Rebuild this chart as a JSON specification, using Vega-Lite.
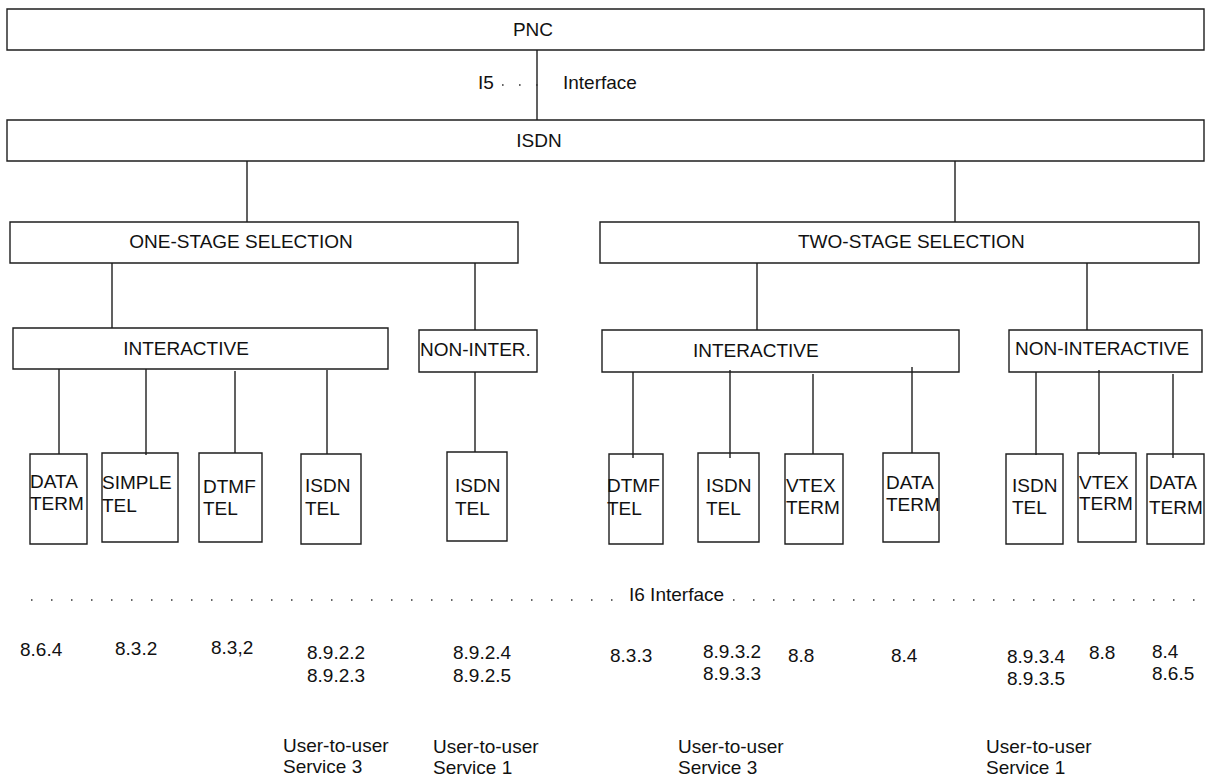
{
  "$schema": "https://vega.github.io/schema/vega-lite/v6.json",
  "width": 1207,
  "height": 778,
  "autosize": {"type": "fit", "contains": "padding"},
  "padding": 0,
  "background": "white",
  "config": {"view": {"stroke": null}},
  "datasets": {
    "boxes": [
      {"name": "PNC", "x1": 7, "x2": 1204, "y1": 9, "y2": 50},
      {"name": "ISDN", "x1": 7, "x2": 1204, "y1": 120, "y2": 161},
      {"name": "ONE", "x1": 10, "x2": 518, "y1": 222, "y2": 263},
      {"name": "TWO", "x1": 600, "x2": 1199, "y1": 222, "y2": 263},
      {"name": "INT L", "x1": 13, "x2": 388, "y1": 328, "y2": 369},
      {"name": "NONINT L", "x1": 419, "x2": 537, "y1": 330, "y2": 372},
      {"name": "INT R", "x1": 602, "x2": 959, "y1": 330, "y2": 372},
      {"name": "NONINT R", "x1": 1009, "x2": 1202, "y1": 330, "y2": 372},
      {"name": "t1", "x1": 30, "x2": 87, "y1": 454, "y2": 544},
      {"name": "t2", "x1": 102, "x2": 178, "y1": 453, "y2": 542},
      {"name": "t3", "x1": 199, "x2": 262, "y1": 453, "y2": 542},
      {"name": "t4", "x1": 301, "x2": 361, "y1": 454, "y2": 544},
      {"name": "t5", "x1": 447, "x2": 507, "y1": 452, "y2": 541},
      {"name": "t6", "x1": 609, "x2": 663, "y1": 454, "y2": 544},
      {"name": "t7", "x1": 698, "x2": 759, "y1": 453, "y2": 542},
      {"name": "t8", "x1": 785, "x2": 843, "y1": 454, "y2": 544},
      {"name": "t9", "x1": 883, "x2": 939, "y1": 453, "y2": 542},
      {"name": "t10", "x1": 1006, "x2": 1063, "y1": 454, "y2": 544},
      {"name": "t11", "x1": 1078, "x2": 1136, "y1": 453, "y2": 542},
      {"name": "t12", "x1": 1147, "x2": 1204, "y1": 454, "y2": 544}
    ],
    "links": [
      {"x": 537, "y1": 50, "y2": 120},
      {"x": 247, "y1": 161, "y2": 222},
      {"x": 955, "y1": 161, "y2": 222},
      {"x": 112, "y1": 263, "y2": 328},
      {"x": 475, "y1": 263, "y2": 330},
      {"x": 757, "y1": 263, "y2": 330},
      {"x": 1087, "y1": 263, "y2": 330},
      {"x": 59, "y1": 369, "y2": 454},
      {"x": 146, "y1": 369, "y2": 455},
      {"x": 235, "y1": 371, "y2": 453},
      {"x": 327, "y1": 370, "y2": 454},
      {"x": 475, "y1": 372, "y2": 452},
      {"x": 633, "y1": 372, "y2": 458},
      {"x": 730, "y1": 370, "y2": 458},
      {"x": 813, "y1": 374, "y2": 454},
      {"x": 912, "y1": 367, "y2": 453},
      {"x": 1036, "y1": 372, "y2": 455},
      {"x": 1099, "y1": 370, "y2": 455},
      {"x": 1173, "y1": 374, "y2": 458}
    ],
    "dotsI5": [
      {"x1": 502, "x2": 540, "y": 85}
    ],
    "dotsI6": [
      {"x1": 31, "x2": 614, "y": 600},
      {"x1": 733, "x2": 1206, "y": 600}
    ],
    "centered": [
      {"label": "PNC", "x": 533, "y": 30},
      {"label": "ISDN", "x": 539, "y": 141},
      {"label": "ONE-STAGE SELECTION", "x": 241, "y": 242},
      {"label": "INTERACTIVE", "x": 186, "y": 349}
    ],
    "lefttext": [
      {"label": "I5", "x": 478, "y": 83},
      {"label": "Interface", "x": 563, "y": 83},
      {"label": "TWO-STAGE SELECTION", "x": 798, "y": 242},
      {"label": "NON-INTER.", "x": 420, "y": 350},
      {"label": "INTERACTIVE", "x": 693, "y": 351},
      {"label": "NON-INTERACTIVE", "x": 1015, "y": 349},
      {"label": "DATA", "x": 30, "y": 482},
      {"label": "TERM", "x": 30, "y": 504},
      {"label": "SIMPLE", "x": 102, "y": 483},
      {"label": "TEL", "x": 102, "y": 506},
      {"label": "DTMF", "x": 203, "y": 487},
      {"label": "TEL", "x": 203, "y": 509},
      {"label": "ISDN", "x": 305, "y": 486},
      {"label": "TEL", "x": 305, "y": 509},
      {"label": "ISDN", "x": 455, "y": 486},
      {"label": "TEL", "x": 455, "y": 509},
      {"label": "DTMF", "x": 607, "y": 486},
      {"label": "TEL", "x": 607, "y": 509},
      {"label": "ISDN", "x": 706, "y": 486},
      {"label": "TEL", "x": 706, "y": 509},
      {"label": "VTEX", "x": 786, "y": 486},
      {"label": "TERM", "x": 786, "y": 508},
      {"label": "DATA", "x": 886, "y": 483},
      {"label": "TERM", "x": 886, "y": 505},
      {"label": "ISDN", "x": 1012, "y": 486},
      {"label": "TEL", "x": 1012, "y": 508},
      {"label": "VTEX", "x": 1079, "y": 483},
      {"label": "TERM", "x": 1079, "y": 504},
      {"label": "DATA", "x": 1149, "y": 483},
      {"label": "TERM", "x": 1149, "y": 508},
      {"label": "I6 Interface", "x": 629, "y": 595},
      {"label": "8.6.4", "x": 20, "y": 650},
      {"label": "8.3.2", "x": 115, "y": 649},
      {"label": "8.3,2", "x": 211, "y": 648},
      {"label": "8.9.2.2", "x": 307, "y": 653},
      {"label": "8.9.2.3", "x": 307, "y": 676},
      {"label": "8.9.2.4", "x": 453, "y": 653},
      {"label": "8.9.2.5", "x": 453, "y": 676},
      {"label": "8.3.3", "x": 610, "y": 656},
      {"label": "8.9.3.2", "x": 703, "y": 652},
      {"label": "8.9.3.3", "x": 703, "y": 674},
      {"label": "8.8", "x": 788, "y": 656},
      {"label": "8.4", "x": 891, "y": 656},
      {"label": "8.9.3.4", "x": 1007, "y": 657},
      {"label": "8.9.3.5", "x": 1007, "y": 679},
      {"label": "8.8", "x": 1089, "y": 653},
      {"label": "8.4", "x": 1152, "y": 652},
      {"label": "8.6.5", "x": 1152, "y": 674},
      {"label": "User-to-user", "x": 283, "y": 746},
      {"label": "Service 3", "x": 283, "y": 767},
      {"label": "User-to-user", "x": 433, "y": 747},
      {"label": "Service 1", "x": 433, "y": 768},
      {"label": "User-to-user", "x": 678, "y": 747},
      {"label": "Service 3", "x": 678, "y": 768},
      {"label": "User-to-user", "x": 986, "y": 747},
      {"label": "Service 1", "x": 986, "y": 768}
    ]
  },
  "layer": [
    {
      "data": {"name": "boxes"},
      "mark": {"type": "rect", "fill": "white", "stroke": "#1e1e1e", "strokeWidth": 1.4},
      "encoding": {
        "x": {"field": "x1", "type": "quantitative", "scale": {"domain": [0, 1207], "nice": false, "zero": false}, "axis": null},
        "x2": {"field": "x2"},
        "y": {"field": "y1", "type": "quantitative", "scale": {"domain": [0, 778], "nice": false, "zero": false, "reverse": true}, "axis": null},
        "y2": {"field": "y2"}
      }
    },
    {
      "data": {"name": "links"},
      "mark": {"type": "rule", "stroke": "#1e1e1e", "strokeWidth": 1.4},
      "encoding": {
        "x": {"field": "x", "type": "quantitative"},
        "y": {"field": "y1", "type": "quantitative"},
        "y2": {"field": "y2"}
      }
    },
    {
      "data": {"name": "dotsI5"},
      "mark": {"type": "rule", "stroke": "#333333", "strokeWidth": 1.6, "strokeDash": [1.6, 15.4]},
      "encoding": {
        "x": {"field": "x1", "type": "quantitative"},
        "x2": {"field": "x2"},
        "y": {"field": "y", "type": "quantitative"}
      }
    },
    {
      "data": {"name": "dotsI6"},
      "mark": {"type": "rule", "stroke": "#333333", "strokeWidth": 1.5, "strokeDash": [1.5, 18.5]},
      "encoding": {
        "x": {"field": "x1", "type": "quantitative"},
        "x2": {"field": "x2"},
        "y": {"field": "y", "type": "quantitative"}
      }
    },
    {
      "data": {"name": "centered"},
      "mark": {"type": "text", "align": "center", "baseline": "middle", "font": "Liberation Sans", "fontSize": 19, "color": "#111111"},
      "encoding": {
        "x": {"field": "x", "type": "quantitative"},
        "y": {"field": "y", "type": "quantitative"},
        "text": {"field": "label"}
      }
    },
    {
      "data": {"name": "lefttext"},
      "mark": {"type": "text", "align": "left", "baseline": "middle", "font": "Liberation Sans", "fontSize": 19, "color": "#111111"},
      "encoding": {
        "x": {"field": "x", "type": "quantitative"},
        "y": {"field": "y", "type": "quantitative"},
        "text": {"field": "label"}
      }
    }
  ]
}
